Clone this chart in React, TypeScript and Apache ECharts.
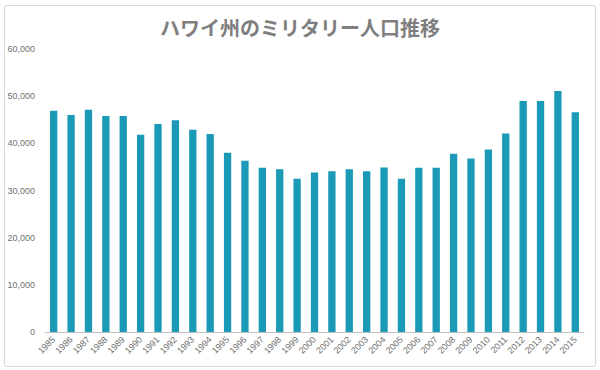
import React, { useEffect, useRef } from "react";
import * as echarts from "echarts";

const TITLE = "ハワイ州のミリタリー人口推移";
const years = [
  "1985", "1986", "1987", "1988", "1989", "1990", "1991", "1992", "1993", "1994",
  "1995", "1996", "1997", "1998", "1999", "2000", "2001", "2002", "2003", "2004",
  "2005", "2006", "2007", "2008", "2009", "2010", "2011", "2012", "2013", "2014", "2015",
];
const militaryPopulation = [
  46900, 46000, 47100, 45800, 45800, 41800, 44100, 44900, 42900, 42000,
  38000, 36300, 34800, 34500, 32500, 33800, 34100, 34500, 34100, 34900,
  32500, 34800, 34800, 37800, 36800, 38700, 42100, 49000, 49000, 51100, 46600,
];
const yMin = 0;
const yMax = 60000;
const yInterval = 10000;

export default function App() {
  const ref = useRef<HTMLDivElement>(null);
  useEffect(() => {
    if (!ref.current) return;
    const chart = echarts.init(ref.current, null, { renderer: "svg" });
    chart.setOption({
      animation: false,
      backgroundColor: "#ffffff",
      title: {
        text: TITLE,
        left: "center",
        top: 12,
        textStyle: {
          fontFamily: "Noto Sans CJK JP",
          fontSize: 20,
          fontWeight: "bold",
          color: "#7f7f7f",
        },
      },
      graphic: [
        {
          type: "rect",
          shape: { x: 4.5, y: 5.5, width: 591, height: 361, r: 2 },
          style: { fill: "none", stroke: "#d9d9d9", lineWidth: 1 },
          silent: true,
        },
      ],
      grid: { left: 45, right: 16, top: 49, bottom: 38, containLabel: false },
      xAxis: {
        type: "category",
        data: years,
        axisLine: { lineStyle: { color: "#bfbfbf", width: 1 } },
        axisTick: { show: false },
        axisLabel: {
          rotate: 45,
          interval: 0,
          margin: 6,
          fontSize: 9,
          color: "#707070",
          fontFamily: "Liberation Sans",
        },
      },
      yAxis: {
        type: "value",
        min: yMin,
        max: yMax,
        interval: yInterval,
        splitLine: { show: false },
        axisLine: { show: false },
        axisTick: { show: false },
        axisLabel: {
          margin: 10,
          fontSize: 9,
          color: "#707070",
          fontFamily: "Liberation Sans",
          formatter: (v: number) => v.toLocaleString("en-US"),
        },
      },
      series: [
        {
          type: "bar",
          data: militaryPopulation,
          barCategoryGap: "58%",
          itemStyle: { color: "#1a9ab6" },
        },
      ],
    });
    return () => chart.dispose();
  }, []);
  return (
    <div
      ref={ref}
      style={{ position: "absolute", left: 0, top: 0, width: 600, height: 370 }}
    />
  );
}
